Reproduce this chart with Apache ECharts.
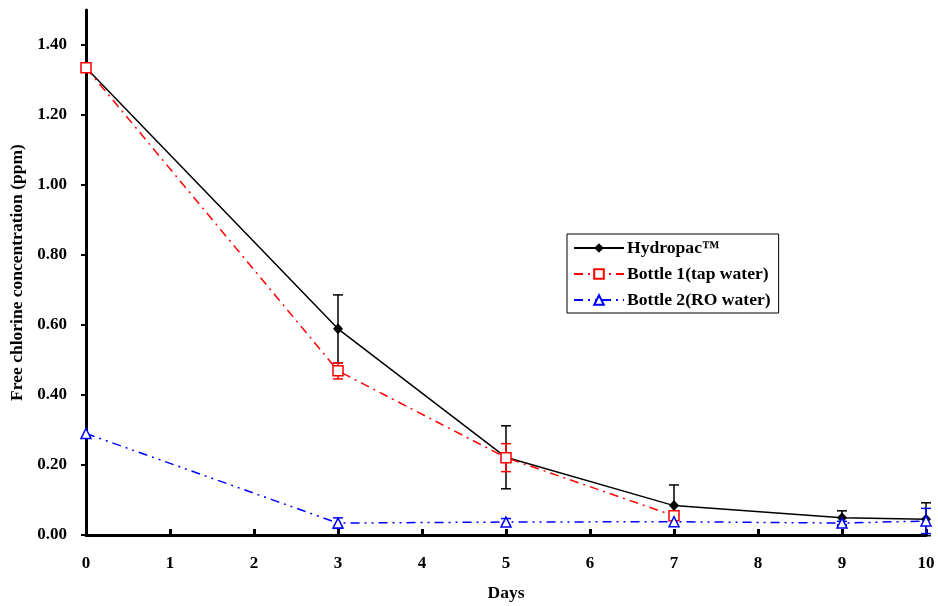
<!DOCTYPE html>
<html>
<head>
<meta charset="utf-8">
<script src="https://cdn.jsdelivr.net/npm/echarts@6/dist/echarts.min.js"></script>
<style>html,body{margin:0;padding:0;background:#fff}#c{width:938px;height:606px}</style>
</head>
<body>
<div id="c"></div>
<script>
const days = [0, 3, 5, 7, 9, 10];
const hydropac = [1.335, 0.589, 0.222, 0.084, 0.049, 0.045];
const hydropacErr = [0, 0.097, 0.09, 0.059, 0.02, 0.047];
const bottle1Days = [0, 3, 5, 7];
const bottle1 = [1.335, 0.469, 0.221, 0.055];
const bottle1Err = [0, 0.023, 0.04, 0];
const bottle2 = [0.29, 0.034, 0.037, 0.038, 0.034, 0.04];
const bottle2Err = [0, 0.015, 0.01, 0, 0.005, 0.036];
const yTicks = [0, 0.2, 0.4, 0.6, 0.8, 1.0, 1.2, 1.4];
const names = ['Hydropac\u2122', 'Bottle 1(tap water)', 'Bottle 2(RO water)'];

const FONT = "'Liberation Serif','Times New Roman',serif";
const chart = echarts.init(document.getElementById('c'), null, {renderer: 'canvas'});

function pts(xs, ys) { return xs.map((x, i) => [x, ys[i]]); }
function errPts(xs, ys, es) { return xs.map((x, i) => [x, ys[i], es[i]]).filter(d => d[2] > 0); }
function errSeries(data, color, z) {
  return {
    type: 'custom', data: data, z: z, silent: true, clip: false,
    renderItem: function (params, api) {
      const x = api.value(0), y = api.value(1), e = api.value(2);
      const t = api.coord([x, y + e]), b = api.coord([x, y - e]);
      const hw = 5;
      const st = {stroke: color, lineWidth: 1.5};
      return {type: 'group', children: [
        {type: 'line', shape: {x1: t[0], y1: t[1], x2: b[0], y2: b[1]}, style: st},
        {type: 'line', shape: {x1: t[0] - hw, y1: t[1], x2: t[0] + hw, y2: t[1]}, style: st},
        {type: 'line', shape: {x1: b[0] - hw, y1: b[1], x2: b[0] + hw, y2: b[1]}, style: st}
      ]};
    }
  };
}

chart.setOption({
  animation: false,
  backgroundColor: '#fff',
  grid: {left: 86, right: 12, top: 10, bottom: 71, containLabel: false, outerBoundsMode: 'none'},
  legend: {
    data: names, orient: 'vertical', left: 567, top: 234,
    selectedMode: false, itemWidth: 50, itemHeight: 12, itemGap: 8,
    padding: [5, 8, 4, 6], borderColor: '#000', borderWidth: 1,
    backgroundColor: '#fff',
    textStyle: {fontFamily: FONT, fontWeight: 'bold', fontSize: 17.6, color: '#000', padding: [0, 0, 0, -2]}
  },
  xAxis: {
    type: 'value', min: 0, max: 10, interval: 1,
    name: 'Days', nameLocation: 'middle', nameGap: 49,
    nameTextStyle: {fontFamily: FONT, fontWeight: 'bold', fontSize: 17.5, color: '#000'},
    axisLine: {lineStyle: {color: '#000', width: 3}},
    axisTick: {inside: true, length: 6, lineStyle: {color: '#000', width: 3}},
    axisLabel: {margin: 20, fontFamily: FONT, fontWeight: 'bold', fontSize: 17, color: '#000'},
    splitLine: {show: false}
  },
  yAxis: {
    type: 'value', min: 0, max: 1.5, interval: 0.2,
    name: 'Free chlorine concentration (ppm)', nameLocation: 'middle', nameGap: 58,
    nameTextStyle: {fontFamily: FONT, fontWeight: 'bold', fontSize: 17.5, color: '#000'},
    axisLine: {show: true, lineStyle: {color: '#000', width: 3}},
    axisTick: {show: true, length: 5, customValues: yTicks, lineStyle: {color: '#000', width: 2}},
    axisLabel: {margin: 19, customValues: yTicks, formatter: v => v.toFixed(2),
      fontFamily: FONT, fontWeight: 'bold', fontSize: 17, color: '#000'},
    splitLine: {show: false}
  },
  series: [
    errSeries(errPts(days, hydropac, hydropacErr), '#000', 2),
    {
      name: names[0], type: 'line', data: pts(days, hydropac), z: 3,
      symbol: 'diamond', symbolSize: [10, 11],
      lineStyle: {color: '#000', width: 1.5, type: 'solid'},
      itemStyle: {color: '#000', borderColor: '#000', borderWidth: 0}
    },
    errSeries(errPts(bottle1Days, bottle1, bottle1Err), '#ff0000', 4),
    {
      name: names[1], type: 'line', data: pts(bottle1Days, bottle1), z: 5,
      symbol: 'rect', symbolSize: 10,
      lineStyle: {color: '#ff0000', width: 1.5, type: [9, 5, 2, 5]},
      itemStyle: {color: '#fff', borderColor: '#ff0000', borderWidth: 1.5}
    },
    errSeries(errPts(days, bottle2, bottle2Err), '#0000ff', 6),
    {
      name: names[2], type: 'line', data: pts(days, bottle2), z: 7,
      symbol: 'triangle', symbolSize: [10, 10],
      lineStyle: {color: '#0000ff', width: 1.5, type: [9, 5, 2, 5, 2, 5]},
      itemStyle: {color: '#fff', borderColor: '#0000ff', borderWidth: 1.5}
    }
  ]
});
</script>
</body>
</html>
